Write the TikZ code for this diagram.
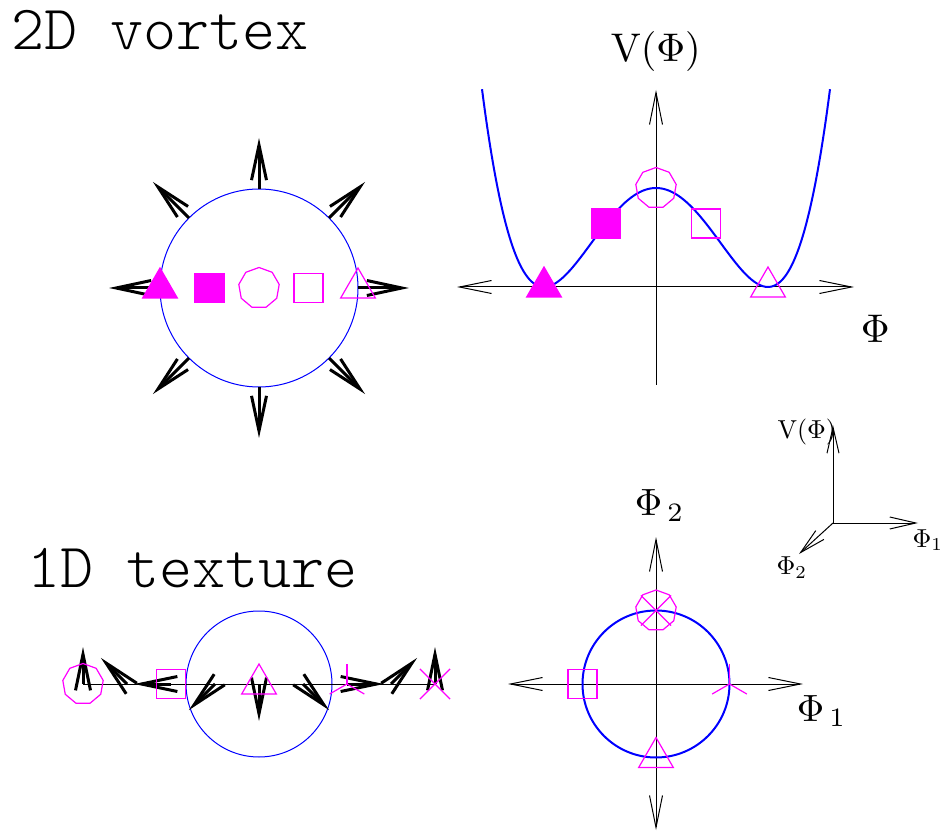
\documentclass[tikz,border=0pt]{standalone}
\usepackage{amsmath}
\usetikzlibrary{arrows.meta,shapes.geometric,shapes.misc}
\definecolor{vmag}{RGB}{255,0,255}
\definecolor{vblue}{RGB}{0,0,255}

\begin{document}
\begin{tikzpicture}[x=1pt, y=1pt,
    spin/.style={line width=3pt, -{Straight Barb[length=35pt, width=15pt]}},
    texspin/.style={line width=3pt, -{Straight Barb[length=36pt, width=15pt]}},
    axis/.style={line width=1pt, -{Straight Barb[length=32pt, width=13pt]}},
    axisboth/.style={line width=1pt, {Straight Barb[length=32pt, width=13pt]}-{Straight Barb[length=32pt, width=13pt]}},
    smallaxis/.style={line width=1pt, -{Straight Barb[length=26pt, width=12pt]}},
    sym/.style={draw=vmag, line width=1.2pt, inner sep=0pt},
    ngon/.style={sym, regular polygon, regular polygon sides=9, minimum size=41pt},
    tri/.style={sym, regular polygon, regular polygon sides=3, minimum size=40pt},
    sqr/.style={sym, rectangle, minimum size=29pt},
    xcross/.style={sym, cross out, minimum size=29pt},
    title/.style={inner sep=0pt, anchor=base west, font=\fontsize{63}{63}\fontseries{l}\ttfamily\selectfont},
    biglab/.style={inner sep=0pt, anchor=base west, scale=4},
    midlab/.style={inner sep=0pt, anchor=base west, scale=3.8},
    smalllab/.style={inner sep=0pt, anchor=base west, scale=2.6},
  ]
  \useasboundingbox (0,0) rectangle (945,831);

  % titles
  \node[title] (vtitle) at (11,781) {2D vortex};
  \node[title] (ttitle) at (27,244) {1D texture};

  % 2D vortex: circle, radial spins, symbols
  \coordinate (vort) at (259,543);
  \draw[vblue, line width=1pt] (vort) circle[radius=99];
  \foreach \a in {0,45,...,315} {
    \draw[spin] ([shift={(\a:99)}]vort) -- ([shift={(\a:150)}]vort);
  }
  \node[tri, fill=vmag] (vA) at (160,543) {};
  \node[sqr, fill=vmag] (vB) at (209.5,543) {};
  \node[ngon] (vC) at (259,543) {};
  \node[sqr] (vD) at (308.5,543) {};
  \node[tri] (vE) at (358,543) {};

  % potential V(Phi)
  \coordinate (pot) at (656,544);
  \coordinate (potW) at (457,544);
  \coordinate (potE) at (854,544);
  \coordinate (potS) at (656,446);
  \coordinate (potN) at (656,741);
  \draw[axisboth] (potW) -- (potE);
  \draw[axis] (potS) -- (potN);
  \draw[vblue, line width=2pt, domain=-174:174, samples=120, smooth]
    plot ({656+\x}, {544+99*((\x/112)*(\x/112)-1)*((\x/112)*(\x/112)-1)});
  \node[tri, fill=vmag] (pA) at (544,544) {};
  \node[sqr, fill=vmag] (pB) at (606,607.5) {};
  \node[ngon] (pC) at (656,643) {};
  \node[sqr] (pD) at (706,607.5) {};
  \node[tri] (pE) at (768,544) {};
  \node[biglab] (vlab) at (610,769) {$\mathrm{V}(\Phi)$};
  \node[biglab] (philab) at (860,488) {$\Phi$};

  % 3D axes
  \coordinate (ax) at (833,308);
  \coordinate (axV) at (833,406);
  \coordinate (axA) at (918,308);
  \coordinate (axB) at (799,277);
  \draw[smallaxis] (ax) -- (axV);
  \draw[smallaxis] (ax) -- (axA);
  \draw[smallaxis] (ax) -- (axB);
  \node[smalllab] (axVlab) at (777,392) {$\mathrm{V}(\Phi)$};
  \node[smalllab] (axAlab) at (912,284) {$\Phi_1$};
  \node[smalllab] (axBlab) at (776,256) {$\Phi_2$};

  % 1D texture
  \coordinate (tex) at (83,147);
  \coordinate (texend) at (435,147);
  \draw[vblue, line width=1pt] (259,147) circle[radius=73];
  \draw[line width=1pt] (tex) -- (texend);
  \foreach \i in {0,...,8} {
    \pgfmathsetmacro{\a}{90+45*\i}
    \draw[texspin] ([xshift={\i*44}]tex) -- ++(\a:37);
  }
  \node[ngon] (tA) at (tex) {};
  \node[sqr] (tB) at (171,147) {};
  \node[tri] (tC) at (259,147) {};
  \coordinate (tD) at (347,147);
  \foreach \a in {90,210,330} {
    \draw[vmag, line width=1.2pt] (tD) -- ++(\a:20);
  }
  \node[xcross] (tE) at (texend) {};

  % Phi_1 -- Phi_2 plane
  \coordinate (pl) at (656,147);
  \coordinate (plW) at (508,147);
  \coordinate (plE) at (803,147);
  \coordinate (plS) at (656,1);
  \coordinate (plN) at (656,294);
  \draw[axisboth] (plW) -- (plE);
  \draw[axisboth] (plS) -- (plN);
  \draw[vblue, line width=2pt] (pl) circle[radius=73.5];
  \node[ngon] (qA) at (656,220.5) {};
  \node[xcross] (qE) at (656,220.5) {};
  \node[sqr] (qB) at (582.5,147) {};
  \node[tri] (qC) at (656,73.5) {};
  \coordinate (qD) at (729.5,147);
  \foreach \a in {90,210,330} {
    \draw[vmag, line width=1.2pt] (qD) -- ++(\a:20);
  }
  \node[midlab] (plAlab) at (796,110) {$\Phi_{\,1}$};
  \node[midlab] (plBlab) at (634,315) {$\Phi_{\,2}$};
\end{tikzpicture}
\end{document}
